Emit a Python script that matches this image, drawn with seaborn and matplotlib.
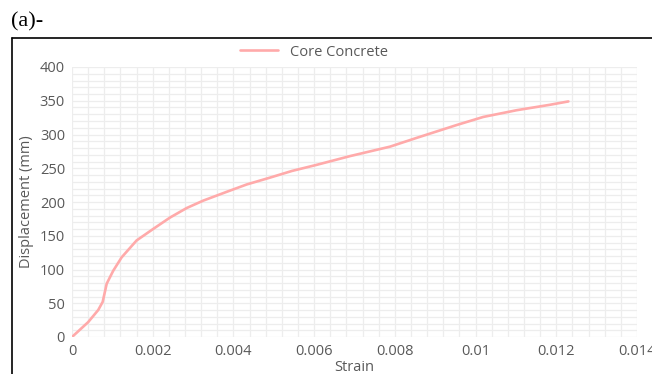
import matplotlib
matplotlib.use("Agg")
import matplotlib.pyplot as plt
from matplotlib.lines import Line2D
from matplotlib.ticker import MultipleLocator
import pandas as pd
import seaborn as sns

# curve
strain = [0.0, 0.00040, 0.00065, 0.00076, 0.00086, 0.00102, 0.00123, 0.00160,
          0.00201, 0.00243, 0.00284, 0.00325, 0.00383, 0.00433, 0.00490,
          0.00545, 0.00606, 0.00689, 0.00788, 0.00854, 0.00953, 0.01019,
          0.01102, 0.01184, 0.01230]
displacement = [0, 22, 40, 52, 79, 98, 118, 143, 160, 177, 191, 202, 215,
                226, 236, 246, 255, 268, 282, 295, 314, 326, 336, 344, 349]
xtick_vals = [0, 0.002, 0.004, 0.006, 0.008, 0.01, 0.012, 0.014]
xtick_labels = ["0", "0.002", "0.004", "0.006", "0.008", "0.01", "0.012", "0.014"]
ytick_vals = [0, 50, 100, 150, 200, 250, 300, 350, 400]
series_name = "Core Concrete"

df = pd.DataFrame({"Strain": strain, "Displacement": displacement})

sns.set_theme(style="white")
plt.rcParams["font.family"] = ["Open Sans", "DejaVu Sans"]
TXT = "#595959"
GRID = "#ededed"

fig = plt.figure(figsize=(6.52, 3.74), dpi=100)
ax = fig.add_axes([72 / 652, 37 / 374, 565 / 652, 270 / 374])

sns.lineplot(data=df, x="Strain", y="Displacement", sort=False, ax=ax,
             color="#ffaaaa", linewidth=1.9, label=series_name)
ax.lines[0].set_solid_joinstyle("round")

ax.set_xlim(0, 0.014)
ax.set_ylim(0, 400)
ax.set_xticks(xtick_vals)
ax.set_xticklabels(xtick_labels)
ax.set_yticks(ytick_vals)
ax.xaxis.set_minor_locator(MultipleLocator(0.0004))
ax.yaxis.set_minor_locator(MultipleLocator(10))
ax.grid(True, which="both", color=GRID, linewidth=0.9)
ax.set_axisbelow(True)
for s in ax.spines.values():
    s.set_visible(False)
ax.tick_params(which="both", length=0, labelsize=10.5, labelcolor=TXT, pad=5)
ax.set_xlabel("Strain", fontsize=10.5, color=TXT, labelpad=0)
ax.set_ylabel("Displacement (mm)", fontsize=10.5, color=TXT, labelpad=4)
ax.xaxis.set_label_coords(0.5, -0.085)

ax.legend(loc="center", bbox_to_anchor=(314 / 652, 1 - 52 / 374),
          bbox_transform=fig.transFigure, frameon=False, fontsize=10.5,
          handlelength=2.6, labelcolor=TXT)

# outer chart frame (top and left edges visible)
fig.add_artist(Line2D([12 / 652, 1.0], [1 - 38 / 374, 1 - 38 / 374],
                      transform=fig.transFigure, color="black", linewidth=1.2))
fig.add_artist(Line2D([12 / 652, 12 / 652], [0.0, 1 - 38 / 374],
                      transform=fig.transFigure, color="black", linewidth=1.2))
fig.text(11 / 652, 1 - 22 / 374, "(a)-", family=["Liberation Serif"],
         fontsize=16, color="black", va="center", ha="left")

fig.savefig("out.png", dpi=100)
